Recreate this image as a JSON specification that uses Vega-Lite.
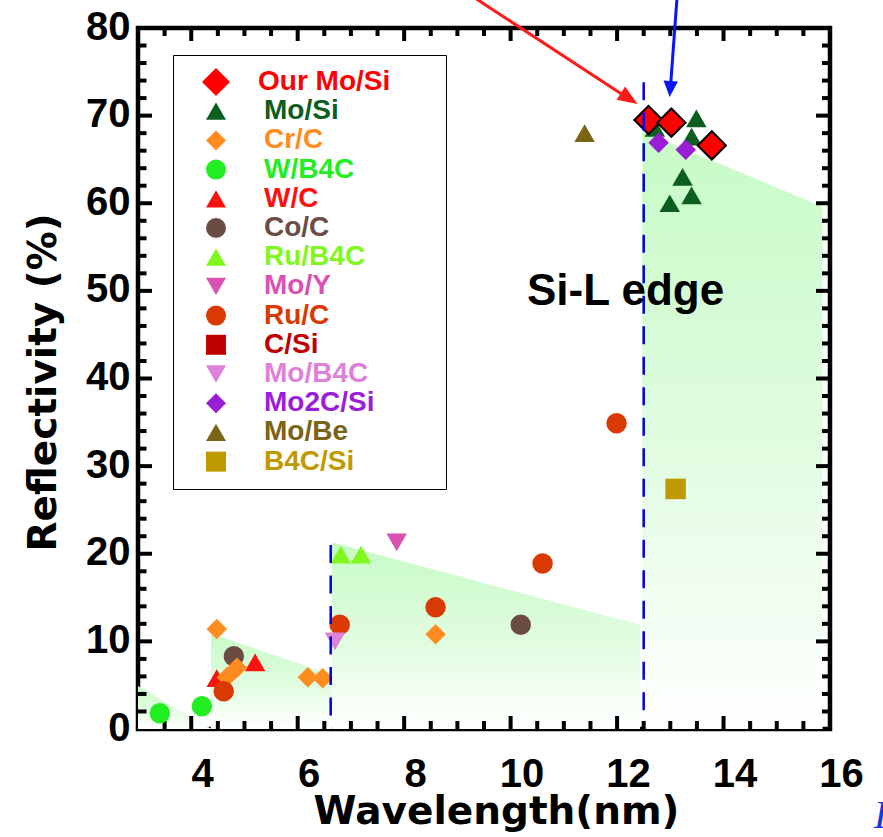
{
  "$schema": "https://vega.github.io/schema/vega-lite/v6.json",
  "width": 692,
  "height": 701,
  "autosize": {"type": "none"},
  "padding": {"left": 138, "top": 28, "right": 53, "bottom": 108},
  "background": "white",
  "config": {
    "view": {"stroke": "black", "strokeWidth": 4.5},
    "font": "Liberation Sans",
    "axis": {"grid": false, "domain": false, "labelColor": "black", "titleColor": "black"},
    "legend": {
      "labelFont": "Liberation Sans", "labelFontSize": 28, "labelFontWeight": "bold",
      "symbolSize": 400, "rowPadding": 1.2, "padding": 13, "symbolOffset": 16, "labelOffset": 34,
      "strokeColor": "black", "fillColor": "white", "labelLimit": 400, "symbolStrokeWidth": 0
    }
  },
  "datasets": {
    "regions": [
      {"region": "A", "x": 3.0, "top": 4.9},
      {"region": "A", "x": 4.38, "top": 0},
      {"region": "B", "x": 4.37, "top": 10.9},
      {"region": "B", "x": 6.64, "top": 6.2},
      {"region": "C", "x": 6.64, "top": 21.3},
      {"region": "C", "x": 12.43, "top": 11.9},
      {"region": "D", "x": 12.47, "top": 68.2},
      {"region": "D", "x": 15.86, "top": 59.6}
    ],
    "notes": [
      {"label": "Si-L edge", "x": 12.16, "y": 48.4}
    ],
    "corner": [
      {"label": "I", "x": 16.82, "y": -11.3}
    ],
    "ticks": [
      {"axis": "x", "kind": "major", "v": 4}, {"axis": "x", "kind": "major", "v": 6}, {"axis": "x", "kind": "major", "v": 8},
      {"axis": "x", "kind": "major", "v": 10}, {"axis": "x", "kind": "major", "v": 12}, {"axis": "x", "kind": "major", "v": 14},
      {"axis": "x", "kind": "minor", "v": 3.5}, {"axis": "x", "kind": "minor", "v": 4.5}, {"axis": "x", "kind": "minor", "v": 5},
      {"axis": "x", "kind": "minor", "v": 5.5}, {"axis": "x", "kind": "minor", "v": 6.5}, {"axis": "x", "kind": "minor", "v": 7},
      {"axis": "x", "kind": "minor", "v": 7.5}, {"axis": "x", "kind": "minor", "v": 8.5}, {"axis": "x", "kind": "minor", "v": 9},
      {"axis": "x", "kind": "minor", "v": 9.5}, {"axis": "x", "kind": "minor", "v": 10.5}, {"axis": "x", "kind": "minor", "v": 11},
      {"axis": "x", "kind": "minor", "v": 11.5}, {"axis": "x", "kind": "minor", "v": 12.5}, {"axis": "x", "kind": "minor", "v": 13},
      {"axis": "x", "kind": "minor", "v": 13.5}, {"axis": "x", "kind": "minor", "v": 14.5}, {"axis": "x", "kind": "minor", "v": 15},
      {"axis": "x", "kind": "minor", "v": 15.5},
      {"axis": "y", "kind": "major", "v": 10}, {"axis": "y", "kind": "major", "v": 20}, {"axis": "y", "kind": "major", "v": 30},
      {"axis": "y", "kind": "major", "v": 40}, {"axis": "y", "kind": "major", "v": 50}, {"axis": "y", "kind": "major", "v": 60},
      {"axis": "y", "kind": "major", "v": 70},
      {"axis": "y", "kind": "minor", "v": 2}, {"axis": "y", "kind": "minor", "v": 4}, {"axis": "y", "kind": "minor", "v": 6},
      {"axis": "y", "kind": "minor", "v": 8}, {"axis": "y", "kind": "minor", "v": 12}, {"axis": "y", "kind": "minor", "v": 14},
      {"axis": "y", "kind": "minor", "v": 16}, {"axis": "y", "kind": "minor", "v": 18}, {"axis": "y", "kind": "minor", "v": 22},
      {"axis": "y", "kind": "minor", "v": 24}, {"axis": "y", "kind": "minor", "v": 26}, {"axis": "y", "kind": "minor", "v": 28},
      {"axis": "y", "kind": "minor", "v": 32}, {"axis": "y", "kind": "minor", "v": 34}, {"axis": "y", "kind": "minor", "v": 36},
      {"axis": "y", "kind": "minor", "v": 38}, {"axis": "y", "kind": "minor", "v": 42}, {"axis": "y", "kind": "minor", "v": 44},
      {"axis": "y", "kind": "minor", "v": 46}, {"axis": "y", "kind": "minor", "v": 48}, {"axis": "y", "kind": "minor", "v": 52},
      {"axis": "y", "kind": "minor", "v": 54}, {"axis": "y", "kind": "minor", "v": 56}, {"axis": "y", "kind": "minor", "v": 58},
      {"axis": "y", "kind": "minor", "v": 62}, {"axis": "y", "kind": "minor", "v": 64}, {"axis": "y", "kind": "minor", "v": 66},
      {"axis": "y", "kind": "minor", "v": 68}, {"axis": "y", "kind": "minor", "v": 72}, {"axis": "y", "kind": "minor", "v": 74},
      {"axis": "y", "kind": "minor", "v": 76}, {"axis": "y", "kind": "minor", "v": 78}
    ],
    "points": [
      {"series": "W/B4C", "x": 3.41, "y": 1.8},
      {"series": "W/B4C", "x": 4.20, "y": 2.6},
      {"series": "W/C", "x": 4.48, "y": 5.8},
      {"series": "W/C", "x": 5.20, "y": 7.6},
      {"series": "Co/C", "x": 4.80, "y": 8.3},
      {"series": "Co/C", "x": 10.19, "y": 11.9},
      {"series": "Cr/C", "x": 4.48, "y": 11.4},
      {"series": "Cr/C", "x": 4.67, "y": 5.9},
      {"series": "Cr/C", "x": 4.86, "y": 7.0},
      {"series": "Cr/C", "x": 6.19, "y": 5.9},
      {"series": "Cr/C", "x": 6.47, "y": 5.8},
      {"series": "Cr/C", "x": 8.59, "y": 10.8},
      {"series": "Ru/C", "x": 4.61, "y": 4.3},
      {"series": "Ru/C", "x": 6.79, "y": 11.9},
      {"series": "Ru/C", "x": 8.59, "y": 13.9},
      {"series": "Ru/C", "x": 10.60, "y": 18.9},
      {"series": "Ru/C", "x": 11.99, "y": 34.9},
      {"series": "Ru/B4C", "x": 6.81, "y": 19.9},
      {"series": "Ru/B4C", "x": 7.19, "y": 19.9},
      {"series": "Mo/Y", "x": 7.86, "y": 21.3},
      {"series": "Mo/B4C", "x": 6.70, "y": 10.0},
      {"series": "Mo/Be", "x": 11.39, "y": 68.0},
      {"series": "B4C/Si", "x": 13.10, "y": 27.4},
      {"series": "Mo/Si", "x": 12.71, "y": 68.6},
      {"series": "Mo/Si", "x": 13.49, "y": 69.7},
      {"series": "Mo/Si", "x": 13.40, "y": 67.6},
      {"series": "Mo/Si", "x": 13.23, "y": 63.0},
      {"series": "Mo/Si", "x": 13.40, "y": 60.9},
      {"series": "Mo/Si", "x": 12.99, "y": 60.0},
      {"series": "Mo2C/Si", "x": 12.78, "y": 66.9},
      {"series": "Mo2C/Si", "x": 13.29, "y": 66.1},
      {"series": "Our Mo/Si", "x": 12.59, "y": 69.5},
      {"series": "Our Mo/Si", "x": 13.02, "y": 69.2},
      {"series": "Our Mo/Si", "x": 13.78, "y": 66.6}
    ],
    "edges": [
      {"x": 6.62, "y": 21.0, "y2": 1.0},
      {"x": 12.5, "y": 73.8, "y2": 0.7}
    ],
    "arrows": [
      {"arrow": "red", "x": 9.10, "y": 84.34, "x2": 12.142, "y2": 72.24, "hx": 12.228, "hy": 71.95},
      {"arrow": "blue", "x": 13.137, "y": 84.34, "x2": 13.006, "y2": 73.5, "hx": 12.998, "hy": 73.04}
    ]
  },
  "layer": [
    {
      "data": {"name": "regions"},
      "mark": {
        "type": "area",
        "color": {"gradient": "linear", "x1": 0, "y1": 0, "x2": 0, "y2": 1,
          "stops": [{"offset": 0, "color": "#c6fbc6"}, {"offset": 0.55, "color": "#e2fce2"}, {"offset": 1, "color": "#ffffff"}]}
      },
      "encoding": {
        "x": {"field": "x", "type": "quantitative", "scale": {"domain": [3, 16], "nice": false, "zero": false},
          "axis": {"orient": "bottom", "values": [4, 6, 8, 10, 12, 14, 16], "ticks": false, "domain": false, "grid": false,
            "labelFont": "Liberation Sans", "labelFontSize": 40, "labelFontWeight": "bold", "labelPadding": 25, "labelOffset": 11,
            "labelFlush": false, "labelOverlap": false,
            "title": "Wavelength(nm)", "titleFont": "DejaVu Sans", "titleFontSize": 39, "titleFontWeight": "bold",
            "titleX": 358, "titleY": 94, "titleBaseline": "alphabetic", "titleAlign": "center"}},
        "y": {"field": "top", "type": "quantitative", "stack": null, "scale": {"domain": [0, 80], "nice": false, "zero": false},
          "axis": {"orient": "left", "values": [0, 10, 20, 30, 40, 50, 60, 70, 80], "ticks": false, "domain": false, "grid": false,
            "labelFont": "Liberation Sans", "labelFontSize": 40, "labelFontWeight": "bold", "labelPadding": 8, "labelOffset": -1,
            "labelFlush": false, "labelOverlap": false,
            "title": "Reflectivity (%)", "titleFont": "DejaVu Sans", "titleFontSize": 39, "titleFontWeight": "bold",
            "titleAngle": -90, "titleX": -83, "titleY": 354, "titleBaseline": "alphabetic", "titleAlign": "center"}},
        "y2": {"datum": 0},
        "detail": {"field": "region"}
      }
    },
    {
      "data": {"name": "ticks"},
      "transform": [{"filter": "datum.axis === 'x' && datum.kind === 'major'"}],
      "mark": {"type": "rule", "color": "black", "strokeWidth": 4, "y2Offset": -13},
      "encoding": {
        "x": {"field": "v", "type": "quantitative", "scale": {"domain": [3, 16], "nice": false, "zero": false}},
        "y": {"datum": 0}, "y2": {"datum": 0}
      }
    },
    {
      "data": {"name": "ticks"},
      "transform": [{"filter": "datum.axis === 'x' && datum.kind === 'minor'"}],
      "mark": {"type": "rule", "color": "black", "strokeWidth": 4, "y2Offset": -8},
      "encoding": {
        "x": {"field": "v", "type": "quantitative", "scale": {"domain": [3, 16], "nice": false, "zero": false}},
        "y": {"datum": 0}, "y2": {"datum": 0}
      }
    },
    {
      "data": {"name": "ticks"},
      "transform": [{"filter": "datum.axis === 'x' && datum.kind === 'major'"}],
      "mark": {"type": "rule", "color": "black", "strokeWidth": 4, "y2Offset": 13},
      "encoding": {
        "x": {"field": "v", "type": "quantitative", "scale": {"domain": [3, 16], "nice": false, "zero": false}},
        "y": {"datum": 80}, "y2": {"datum": 80}
      }
    },
    {
      "data": {"name": "ticks"},
      "transform": [{"filter": "datum.axis === 'x' && datum.kind === 'minor'"}],
      "mark": {"type": "rule", "color": "black", "strokeWidth": 4, "y2Offset": 8},
      "encoding": {
        "x": {"field": "v", "type": "quantitative", "scale": {"domain": [3, 16], "nice": false, "zero": false}},
        "y": {"datum": 80}, "y2": {"datum": 80}
      }
    },
    {
      "data": {"name": "ticks"},
      "transform": [{"filter": "datum.axis === 'y' && datum.kind === 'major'"}],
      "mark": {"type": "rule", "color": "black", "strokeWidth": 4, "x2Offset": 14},
      "encoding": {
        "y": {"field": "v", "type": "quantitative", "scale": {"domain": [0, 80], "nice": false, "zero": false}},
        "x": {"datum": 3}, "x2": {"datum": 3}
      }
    },
    {
      "data": {"name": "ticks"},
      "transform": [{"filter": "datum.axis === 'y' && datum.kind === 'minor'"}],
      "mark": {"type": "rule", "color": "black", "strokeWidth": 4, "x2Offset": 8.5},
      "encoding": {
        "y": {"field": "v", "type": "quantitative", "scale": {"domain": [0, 80], "nice": false, "zero": false}},
        "x": {"datum": 3}, "x2": {"datum": 3}
      }
    },
    {
      "data": {"name": "ticks"},
      "transform": [{"filter": "datum.axis === 'y' && datum.kind === 'major'"}],
      "mark": {"type": "rule", "color": "black", "strokeWidth": 4, "x2Offset": -14},
      "encoding": {
        "y": {"field": "v", "type": "quantitative", "scale": {"domain": [0, 80], "nice": false, "zero": false}},
        "x": {"datum": 16}, "x2": {"datum": 16}
      }
    },
    {
      "data": {"name": "ticks"},
      "transform": [{"filter": "datum.axis === 'y' && datum.kind === 'minor'"}],
      "mark": {"type": "rule", "color": "black", "strokeWidth": 4, "x2Offset": -8},
      "encoding": {
        "y": {"field": "v", "type": "quantitative", "scale": {"domain": [0, 80], "nice": false, "zero": false}},
        "x": {"datum": 16}, "x2": {"datum": 16}
      }
    },
    {
      "data": {"name": "notes"},
      "mark": {"type": "text", "font": "Liberation Sans", "fontSize": 44, "fontWeight": "bold", "align": "center", "baseline": "alphabetic", "color": "black"},
      "encoding": {
        "x": {"field": "x", "type": "quantitative", "scale": {"domain": [3, 16], "nice": false, "zero": false}},
        "y": {"field": "y", "type": "quantitative", "scale": {"domain": [0, 80], "nice": false, "zero": false}},
        "text": {"field": "label"}
      }
    },
    {
      "data": {"name": "points"},
      "mark": {"type": "point", "filled": true, "opacity": 1, "strokeWidth": 2},
      "encoding": {
        "x": {"field": "x", "type": "quantitative", "scale": {"domain": [3, 16], "nice": false, "zero": false}},
        "y": {"field": "y", "type": "quantitative", "scale": {"domain": [0, 80], "nice": false, "zero": false}},
        "size": {"condition": {"test": "datum.series === 'Our Mo/Si'", "value": 800}, "value": 420},
        "stroke": {"condition": {"test": "datum.series === 'Our Mo/Si'", "value": "black"}, "value": "transparent"},
        "color": {"field": "series", "type": "nominal",
          "scale": {"domain": ["Our Mo/Si", "Mo/Si", "Cr/C", "W/B4C", "W/C", "Co/C", "Ru/B4C", "Mo/Y", "Ru/C", "C/Si", "Mo/B4C", "Mo2C/Si", "Mo/Be", "B4C/Si"],
            "range": ["#ff0000", "#0b5e1e", "#ff8c1f", "#22ee22", "#ff1010", "#6b4c44", "#80f820", "#d951b3", "#d93a04", "#c00000", "#dd82d8", "#9a1ed6", "#7a6416", "#bf9900"]},
          "legend": {"orient": "none", "legendX": 35, "legendY": 27, "title": null,
            "labelColor": {"expr": "scale('color', datum.value)"},
            "symbolSize": {"expr": "datum.value === 'Our Mo/Si' ? 784 : 400"},
            "labelOffset": {"expr": "datum.value === 'Our Mo/Si' ? 28 : 34"},
            "labelExpr": "datum.label + '\u2800\u2800'"}},
        "shape": {"field": "series", "type": "nominal",
          "scale": {"domain": ["Our Mo/Si", "Mo/Si", "Cr/C", "W/B4C", "W/C", "Co/C", "Ru/B4C", "Mo/Y", "Ru/C", "C/Si", "Mo/B4C", "Mo2C/Si", "Mo/Be", "B4C/Si"],
            "range": ["diamond", "triangle-up", "diamond", "circle", "triangle-up", "circle", "triangle-up", "triangle-down", "circle", "square", "triangle-down", "diamond", "triangle-up", "square"]},
          "legend": {"orient": "none", "legendX": 35, "legendY": 27, "title": null,
            "labelColor": {"expr": "scale('color', datum.value)"},
            "symbolSize": {"expr": "datum.value === 'Our Mo/Si' ? 784 : 400"},
            "labelOffset": {"expr": "datum.value === 'Our Mo/Si' ? 28 : 34"},
            "labelExpr": "datum.label + '\u2800\u2800'"}}
      }
    },
    {
      "data": {"name": "edges"},
      "mark": {"type": "rule", "color": "#0000e6", "strokeWidth": 2.5, "strokeDash": [18, 12.5]},
      "encoding": {
        "x": {"field": "x", "type": "quantitative", "scale": {"domain": [3, 16], "nice": false, "zero": false}},
        "y": {"field": "y", "type": "quantitative", "scale": {"domain": [0, 80], "nice": false, "zero": false}},
        "y2": {"field": "y2"}
      }
    },
    {
      "data": {"name": "arrows"},
      "transform": [{"filter": "datum.arrow === 'red'"}],
      "mark": {"type": "rule", "color": "#ff1a1a", "strokeWidth": 3},
      "encoding": {
        "x": {"field": "x", "type": "quantitative", "scale": {"domain": [3, 16], "nice": false, "zero": false}},
        "y": {"field": "y", "type": "quantitative", "scale": {"domain": [0, 80], "nice": false, "zero": false}},
        "x2": {"field": "x2"},
        "y2": {"field": "y2"}
      }
    },
    {
      "data": {"name": "arrows"},
      "transform": [{"filter": "datum.arrow === 'red'"}],
      "mark": {"type": "point", "filled": true, "opacity": 1, "color": "#ff1a1a", "shape": "M0,-1L0.78,1L-0.78,1Z", "size": 400, "angle": 123, "strokeWidth": 0},
      "encoding": {
        "x": {"field": "hx", "type": "quantitative", "scale": {"domain": [3, 16], "nice": false, "zero": false}},
        "y": {"field": "hy", "type": "quantitative", "scale": {"domain": [0, 80], "nice": false, "zero": false}}
      }
    },
    {
      "data": {"name": "arrows"},
      "transform": [{"filter": "datum.arrow === 'blue'"}],
      "mark": {"type": "rule", "color": "#0a14ff", "strokeWidth": 3},
      "encoding": {
        "x": {"field": "x", "type": "quantitative", "scale": {"domain": [3, 16], "nice": false, "zero": false}},
        "y": {"field": "y", "type": "quantitative", "scale": {"domain": [0, 80], "nice": false, "zero": false}},
        "x2": {"field": "x2"},
        "y2": {"field": "y2"}
      }
    },
    {
      "data": {"name": "arrows"},
      "transform": [{"filter": "datum.arrow === 'blue'"}],
      "mark": {"type": "point", "filled": true, "opacity": 1, "color": "#0a14ff", "shape": "M0,-1L0.9,1L-0.9,1Z", "size": 256, "angle": 184, "strokeWidth": 0},
      "encoding": {
        "x": {"field": "hx", "type": "quantitative", "scale": {"domain": [3, 16], "nice": false, "zero": false}},
        "y": {"field": "hy", "type": "quantitative", "scale": {"domain": [0, 80], "nice": false, "zero": false}}
      }
    },
    {
      "data": {"name": "corner"},
      "mark": {"type": "text", "font": "Liberation Serif", "fontStyle": "italic", "fontSize": 40, "align": "left", "baseline": "alphabetic", "color": "#1a35e0"},
      "encoding": {
        "x": {"field": "x", "type": "quantitative", "scale": {"domain": [3, 16], "nice": false, "zero": false}},
        "y": {"field": "y", "type": "quantitative", "scale": {"domain": [0, 80], "nice": false, "zero": false}},
        "text": {"field": "label"}
      }
    }
  ]
}
